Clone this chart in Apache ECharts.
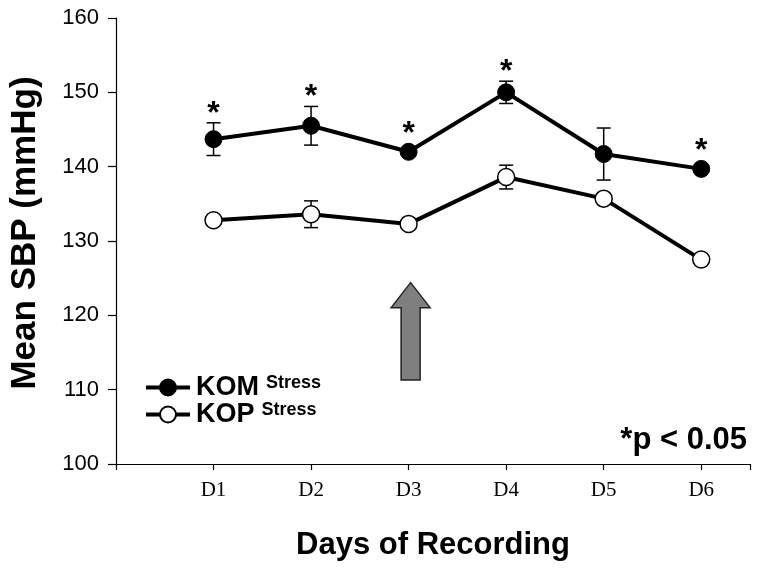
<!DOCTYPE html>
<html>
<head>
<meta charset="utf-8">
<script src="https://cdn.jsdelivr.net/npm/echarts@6/dist/echarts.min.js"></script>
<style>html,body{margin:0;padding:0;background:#fff}#c{width:760px;height:570px}</style>
</head>
<body>
<div id="c"></div>
<script>
const categories = ['D1', 'D2', 'D3', 'D4', 'D5', 'D6'];
const komMean = [143.7, 145.5, 142.0, 150.0, 141.7, 139.7];
const komErr  = [2.2, 2.6, 0.4, 1.5, 3.5, 0.4];
const kopMean = [132.8, 133.6, 132.3, 138.6, 135.7, 127.5];
const kopErr  = [0.4, 1.8, 0.4, 1.6, 0.4, 0.4];
const komSig  = [true, true, true, true, false, true];
const arrowDay = 3;
const arrowRange = [111.3, 124.4];
const yTicks = [100, 110, 120, 130, 140, 150, 160];

const komPts = komMean.map((v, i) => [i + 1, v]);
const kopPts = kopMean.map((v, i) => [i + 1, v]);
const komErrData = komMean.map((v, i) => [i + 1, v - komErr[i], v + komErr[i], v, komSig[i] ? 1 : 0]);
const kopErrData = kopMean.map((v, i) => [i + 1, v - kopErr[i], v + kopErr[i], v, 0]);

function errRender(params, api) {
  const x = api.value(0);
  const lo = api.coord([x, api.value(1)]);
  const hi = api.coord([x, api.value(2)]);
  const pt = api.coord([x, api.value(3)]);
  const cap = 7;
  const st = { stroke: '#000', lineWidth: 1.5 };
  const children = [
    { type: 'line', shape: { x1: hi[0], y1: hi[1], x2: lo[0], y2: lo[1] }, style: st },
    { type: 'line', shape: { x1: hi[0] - cap, y1: hi[1], x2: hi[0] + cap, y2: hi[1] }, style: st },
    { type: 'line', shape: { x1: lo[0] - cap, y1: lo[1], x2: lo[0] + cap, y2: lo[1] }, style: st }
  ];
  if (api.value(4) === 1) {
    const top = Math.min(hi[1], pt[1] - 9);
    children.push({ type: 'text', style: { text: '*', x: pt[0], y: top + 7, align: 'center', verticalAlign: 'bottom', font: 'bold 32px "Liberation Sans", Arial, sans-serif', fill: '#000' } });
  }
  return { type: 'group', children };
}

function arrowRender(params, api) {
  const x = api.value(0);
  const b = api.coord([x, api.value(1)]);
  const t = api.coord([x, api.value(2)]);
  const cx = b[0] + 2;
  const sw = 9.5, hw = 19.5, hh = 25;
  return {
    type: 'polygon',
    shape: { points: [
      [cx - sw, b[1]], [cx - sw, t[1] + hh], [cx - hw, t[1] + hh], [cx, t[1]],
      [cx + hw, t[1] + hh], [cx + sw, t[1] + hh], [cx + sw, b[1]]
    ] },
    style: { fill: '#7f7f7f', stroke: '#222', lineWidth: 1.5 }
  };
}

const FONT = '"Liberation Sans", Arial, sans-serif';
const chart = echarts.init(document.getElementById('c'));
chart.setOption({
  animation: false,
  backgroundColor: '#fff',
  grid: { left: 114, top: 18, right: 10, bottom: 106 },
  title: {
    text: '*p < 0.05', right: 8, top: 420,
    textStyle: { fontFamily: FONT, fontWeight: 'bold', fontSize: 31, color: '#000' }
  },
  legend: {
    left: 139, top: 369, orient: 'vertical', itemGap: 0,
    itemWidth: 44, itemHeight: 20,
    data: ['KOM', 'KOP'],
    lineStyle: { width: 4, color: '#000' },
    formatter: name => '{a|' + name + '}{b|Stress}',
    textStyle: {
      color: '#000',
      rich: {
        a: { fontFamily: FONT, fontWeight: 'bold', fontSize: 27, color: '#000', lineHeight: 27, padding: [0, 7, 0, 1] },
        b: { fontFamily: FONT, fontWeight: 'bold', fontSize: 18, color: '#000', padding: [0, 0, 9, 0] }
      }
    }
  },
  xAxis: {
    type: 'value', min: 0, max: 6.5, interval: 1,
    name: 'Days of Recording', nameLocation: 'middle', nameGap: 66,
    nameTextStyle: { fontFamily: FONT, fontWeight: 'bold', fontSize: 31, color: '#000' },
    axisLine: { lineStyle: { color: '#000', width: 1.2 } },
    axisTick: { length: 6, lineStyle: { color: '#000', width: 1.2 } },
    axisLabel: {
      margin: 16, fontFamily: '"Liberation Serif", "Times New Roman", serif', fontSize: 21, color: '#000',
      formatter: v => (v >= 1 && v <= categories.length && Number.isInteger(v)) ? categories[v - 1] : ''
    },
    splitLine: { show: false }
  },
  yAxis: {
    type: 'value', min: yTicks[0], max: yTicks[yTicks.length - 1], interval: 10,
    name: 'Mean SBP (mmHg)', nameLocation: 'middle', nameGap: 73,
    nameTextStyle: { fontFamily: FONT, fontWeight: 'bold', fontSize: 35, color: '#000', padding: [0, 0, 0, 16] },
    axisLine: { show: true, lineStyle: { color: '#000', width: 1.2 } },
    axisTick: { show: true, length: 8, lineStyle: { color: '#000', width: 1.2 } },
    axisLabel: { margin: 17, fontFamily: FONT, fontSize: 22, color: '#000' },
    splitLine: { show: false }
  },
  series: [
    { type: 'custom', name: 'komErr', renderItem: errRender, data: komErrData, z: 1, silent: true },
    { type: 'custom', name: 'kopErr', renderItem: errRender, data: kopErrData, z: 1, silent: true },
    { type: 'custom', name: 'arrow', renderItem: arrowRender, data: [[arrowDay, arrowRange[0], arrowRange[1]]], z: 1, silent: true },
    {
      type: 'line', name: 'KOM', data: komPts, symbol: 'circle', symbolSize: 17, z: 3,
      lineStyle: { color: '#000', width: 4 },
      itemStyle: { color: '#000', borderColor: '#000', borderWidth: 1 }
    },
    {
      type: 'line', name: 'KOP', data: kopPts, symbol: 'circle', symbolSize: 17, z: 3,
      lineStyle: { color: '#000', width: 4 },
      itemStyle: { color: '#fff', borderColor: '#000', borderWidth: 1.5 }
    }
  ]
});
</script>
</body>
</html>
